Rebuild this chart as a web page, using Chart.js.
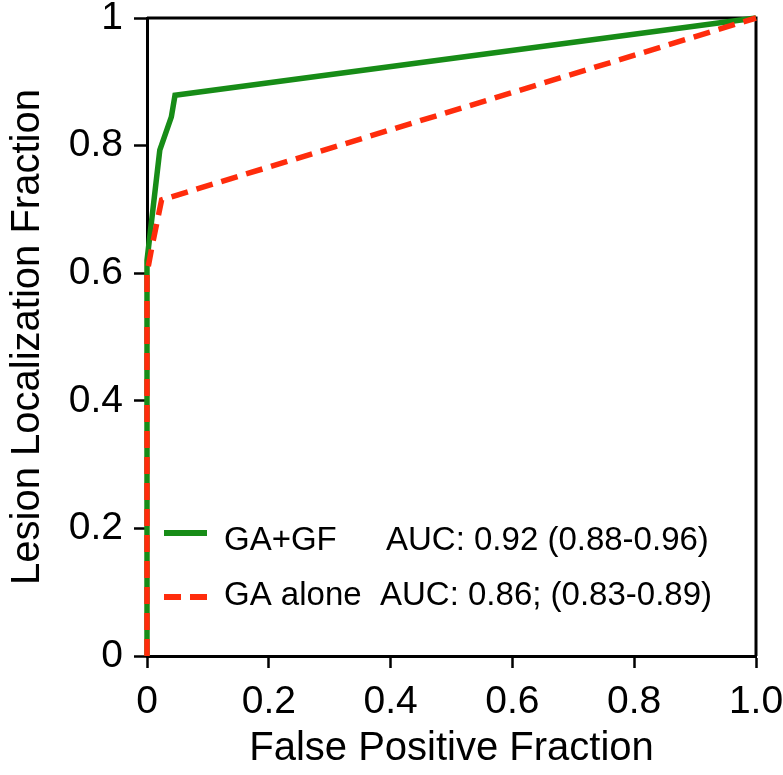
<!DOCTYPE html>
<html>
<head>
<meta charset="utf-8">
<script src="https://cdn.jsdelivr.net/npm/chart.js@4/dist/chart.umd.min.js"></script>
<style>
  body { margin: 0; background: #fff; }
  canvas { display: block; }
</style>
</head>
<body>
<canvas id="roc" width="783" height="775"></canvas>
<script>
// curve points
const fpfGAGF = [0, 0, 0.021, 0.04, 0.046, 1];
const llfGAGF = [0, 0.62, 0.793, 0.845, 0.879, 1];
const fpfGA = [0, 0, 0.008, 0.024, 1];
const llfGA = [0, 0.6, 0.641, 0.715, 1];

const seriesNames = ["GA+GF", "GA alone"];
const aucLabels = ["AUC: 0.92 (0.88-0.96)", "AUC: 0.86; (0.83-0.89)"];
const xTickLabels = ["0", "0.2", "0.4", "0.6", "0.8", "1.0"];
const yTickLabels = ["0", "0.2", "0.4", "0.6", "0.8", "1"];

const toPoints = (xs, ys) => xs.map((x, i) => ({ x: x, y: ys[i] }));

const GREEN = "#178c17";
const RED = "#ff2c0c";
const tickFont = { family: "'Liberation Sans', Arial, sans-serif", size: 39, lineHeight: 0.8 };
const titleFont = { family: "'Liberation Sans', Arial, sans-serif", size: 40 };

// keep the plot box where the figure has it (no extra label overhang padding)
const pinAxis = (prop, size) => (s) => {
  s[prop] = size;
  s.paddingTop = 0;
  s.paddingBottom = 0;
  s.paddingLeft = 0;
  s.paddingRight = 0;
};

// top/right frame of the plot box
const framePlugin = {
  id: "frame",
  beforeDatasetsDraw(chart) {
    const { ctx, chartArea: a } = chart;
    ctx.save();
    ctx.strokeStyle = "#000";
    ctx.lineWidth = 3;
    ctx.beginPath();
    ctx.moveTo(a.left, a.top);
    ctx.lineTo(a.right, a.top);
    ctx.lineTo(a.right, a.bottom);
    ctx.stroke();
    ctx.restore();
  },
};

// legend inside the plot, lower left
const legendPlugin = {
  id: "rocLegend",
  afterDatasetsDraw(chart) {
    const { ctx, chartArea: a } = chart;
    const rows = [
      { lineY: 533, baseY: 550, aucX: 386 },
      { lineY: 597, baseY: 605, aucX: 380 },
    ];
    ctx.save();
    ctx.font = "33px 'Liberation Sans', Arial, sans-serif";
    ctx.textBaseline = "alphabetic";
    ctx.fillStyle = "#000";
    chart.data.datasets.forEach((ds, i) => {
      const r = rows[i];
      ctx.strokeStyle = ds.borderColor;
      ctx.lineWidth = 6;
      ctx.setLineDash(ds.borderDash || []);
      ctx.beginPath();
      ctx.moveTo(a.left + 17, r.lineY);
      ctx.lineTo(a.left + 60, r.lineY);
      ctx.stroke();
      ctx.setLineDash([]);
      ctx.fillText(seriesNames[i], a.left + 77, r.baseY);
      ctx.fillText(aucLabels[i], r.aucX, r.baseY);
    });
    ctx.restore();
  },
};

new Chart(document.getElementById("roc"), {
  type: "scatter",
  data: {
    datasets: [
      {
        label: seriesNames[0],
        data: toPoints(fpfGAGF, llfGAGF),
        borderColor: GREEN,
        borderWidth: 5.5,
        order: 2,
      },
      {
        label: seriesNames[1],
        data: toPoints(fpfGA, llfGA),
        borderColor: RED,
        borderWidth: 5.5,
        borderDash: [17, 9],
        order: 1,
      },
    ],
  },
  options: {
    responsive: false,
    animation: false,
    showLine: true,
    clip: false,
    elements: { point: { radius: 0, hoverRadius: 0 }, line: { tension: 0 } },
    layout: { padding: { top: 18, right: 27, left: 0, bottom: 0 } },
    plugins: { legend: { display: false }, tooltip: { enabled: false } },
    scales: {
      x: {
        type: "linear",
        min: 0,
        max: 1,
        afterFit: pinAxis("height", 119),
        border: { display: true, color: "#000", width: 3 },
        grid: { drawOnChartArea: false, drawTicks: true, tickLength: 12, tickColor: "#000", tickWidth: 2.5 },
        ticks: {
          stepSize: 0.2,
          color: "#000",
          font: tickFont,
          padding: 19,
          maxRotation: 0,
          callback: (v, i) => xTickLabels[i],
        },
        title: { display: true, text: "False Positive Fraction", color: "#000", font: titleFont, padding: 2 },
      },
      y: {
        type: "linear",
        min: 0,
        max: 1,
        afterFit: pinAxis("width", 147),
        border: { display: true, color: "#000", width: 3 },
        grid: { drawOnChartArea: false, drawTicks: true, tickLength: 13, tickColor: "#000", tickWidth: 2.5 },
        ticks: {
          stepSize: 0.2,
          color: "#000",
          font: tickFont,
          padding: 11,
          callback: (v, i) => yTickLabels[i],
        },
        title: { display: true, text: "Lesion Localization Fraction", color: "#000", font: titleFont, padding: 4 },
      },
    },
  },
  plugins: [framePlugin, legendPlugin],
});
</script>
</body>
</html>
